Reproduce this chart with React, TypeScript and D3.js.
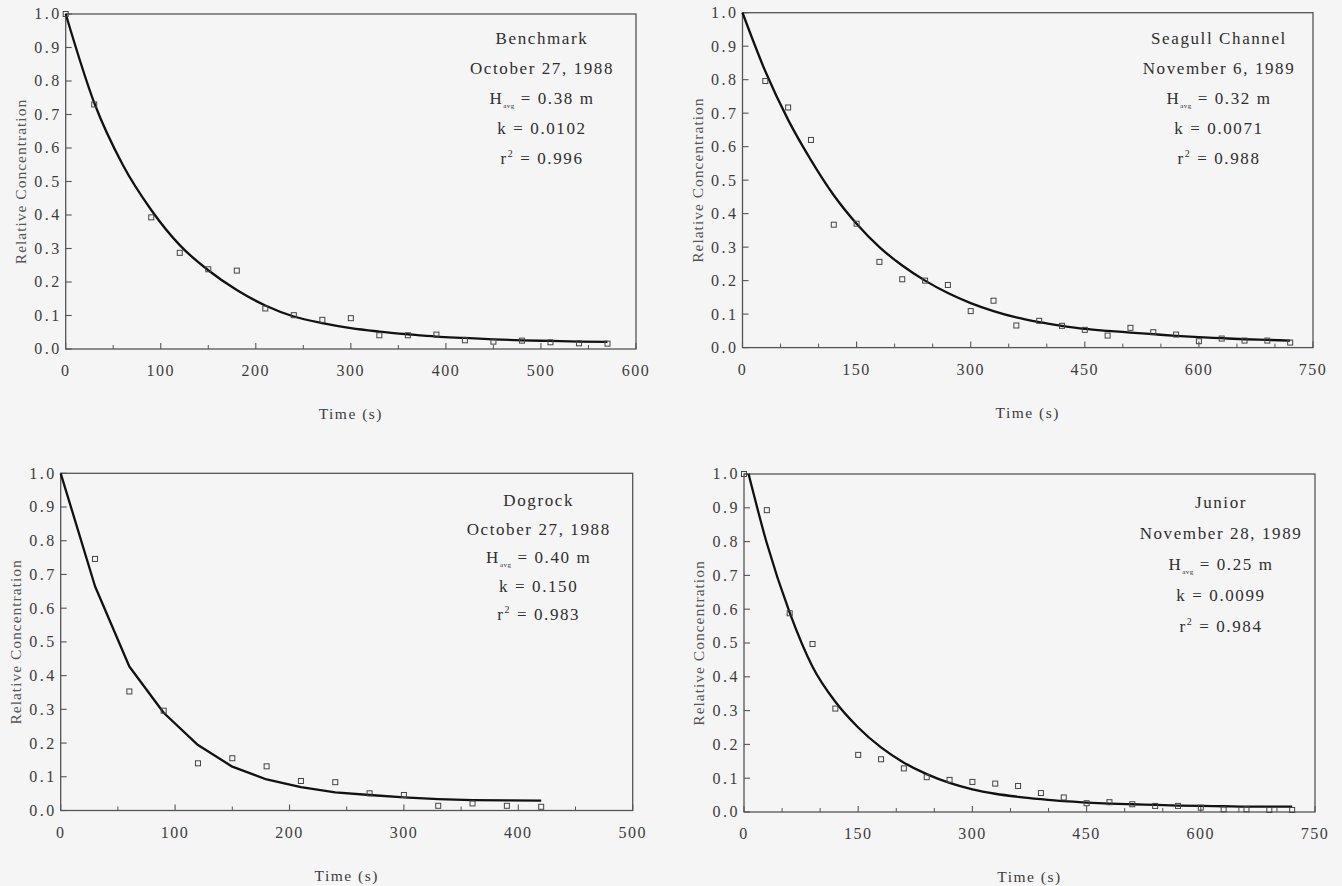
import React from 'react';
import * as d3 from 'd3';

const benchmarkObsT = [0, 30, 90, 120, 150, 180, 210, 240, 270, 300, 330, 360, 390, 420, 450, 480, 510, 540, 570];
const benchmarkObsC = [1.0, 0.73, 0.393, 0.287, 0.238, 0.234, 0.121, 0.101, 0.087, 0.092, 0.041, 0.041, 0.043, 0.026, 0.022, 0.025, 0.02, 0.017, 0.016];
const benchmarkFitT = [0, 30, 60, 90, 120, 150, 180, 210, 240, 270, 300, 330, 360, 390, 420, 450, 480, 510, 540, 570];
const benchmarkFitC = [1.0, 0.735, 0.55, 0.415, 0.31, 0.235, 0.176, 0.13, 0.097, 0.077, 0.062, 0.052, 0.044, 0.037, 0.033, 0.029, 0.026, 0.024, 0.022, 0.021];

const seagullObsT = [30, 60, 90, 120, 150, 180, 210, 240, 270, 300, 330, 360, 390, 420, 450, 480, 510, 540, 570, 600, 630, 660, 690, 720];
const seagullObsC = [0.796, 0.717, 0.62, 0.367, 0.37, 0.256, 0.204, 0.2, 0.187, 0.109, 0.14, 0.066, 0.08, 0.065, 0.053, 0.036, 0.059, 0.046, 0.039, 0.019, 0.027, 0.021, 0.021, 0.015];
const seagullFitT = [0, 30, 60, 90, 120, 150, 180, 210, 240, 270, 300, 330, 360, 390, 420, 450, 480, 510, 540, 570, 600, 630, 660, 690, 720];
const seagullFitC = [1.0, 0.825, 0.68, 0.56, 0.455, 0.37, 0.3, 0.245, 0.2, 0.163, 0.133, 0.109, 0.09, 0.076, 0.065, 0.056, 0.05, 0.045, 0.04, 0.035, 0.031, 0.028, 0.025, 0.023, 0.021];

const dogrockObsT = [30, 60, 90, 120, 150, 180, 210, 240, 270, 300, 330, 360, 390, 420];
const dogrockObsC = [0.746, 0.353, 0.296, 0.14, 0.155, 0.131, 0.0875, 0.084, 0.051, 0.046, 0.014, 0.021, 0.014, 0.011];
const dogrockFitT = [0, 30, 60, 90, 120, 150, 180, 210, 240, 270, 300, 330, 360, 390, 420];
const dogrockFitC = [1.0, 0.665, 0.427, 0.29, 0.194, 0.13, 0.092, 0.069, 0.054, 0.046, 0.039, 0.034, 0.031, 0.03, 0.029];

const juniorObsT = [0, 30, 60, 90, 120, 150, 180, 210, 240, 270, 300, 330, 360, 390, 420, 450, 480, 510, 540, 570, 600, 630, 660, 690, 720];
const juniorObsC = [1.0, 0.893, 0.588, 0.497, 0.306, 0.169, 0.156, 0.129, 0.103, 0.095, 0.089, 0.084, 0.077, 0.056, 0.043, 0.026, 0.029, 0.023, 0.018, 0.018, 0.013, 0.008, 0.008, 0.006, 0.006];
const juniorFitT = [6, 30, 60, 90, 120, 150, 180, 210, 240, 270, 300, 330, 360, 390, 420, 450, 480, 510, 540, 570, 600, 630, 660, 690, 720];
const juniorFitC = [1.0, 0.795, 0.59, 0.43, 0.326, 0.25, 0.191, 0.146, 0.112, 0.086, 0.067, 0.054, 0.045, 0.038, 0.032, 0.028, 0.025, 0.023, 0.021, 0.019, 0.018, 0.017, 0.016, 0.016, 0.016];

// annotation text
const siteNames = ['Benchmark', 'Seagull Channel', 'Dogrock', 'Junior'];
const siteDates = ['October 27, 1988', 'November 6, 1989', 'October 27, 1988', 'November 28, 1989'];
const hAvg = ['0.38', '0.32', '0.40', '0.25'];
const kValues = ['0.0102', '0.0071', '0.150', '0.0099'];
const r2Values = ['0.996', '0.988', '0.983', '0.984'];

// axis ticks
const xTicks600 = [0, 100, 200, 300, 400, 500, 600];
const xTicks500 = [0, 100, 200, 300, 400, 500];
const xTicks750 = [0, 150, 300, 450, 600, 750];
const yTicks = [0, 0.1, 0.2, 0.3, 0.4, 0.5, 0.6, 0.7, 0.8, 0.9, 1.0];

const FONT = '"Liberation Serif", "Times New Roman", serif';
const INK = '#3c3c3c';

const panels = [
  { box: [65.7, 14, 636, 349], xMax: 600, ticks: xTicks600, obsT: benchmarkObsT, obsC: benchmarkObsC, fitT: benchmarkFitT, fitC: benchmarkFitC, noteTop: 44, noteGap: 30, smooth: true },
  { box: [742.5, 12.7, 1313, 347.6], xMax: 750, ticks: xTicks750, obsT: seagullObsT, obsC: seagullObsC, fitT: seagullFitT, fitC: seagullFitC, noteTop: 44, noteGap: 30, smooth: true },
  { box: [60.7, 473.3, 632.7, 810.5], xMax: 500, ticks: xTicks500, obsT: dogrockObsT, obsC: dogrockObsC, fitT: dogrockFitT, fitC: dogrockFitC, noteTop: 506, noteGap: 28.5, smooth: false },
  { box: [744, 474, 1315, 812], xMax: 750, ticks: xTicks750, obsT: juniorObsT, obsC: juniorObsC, fitT: juniorFitT, fitC: juniorFitC, noteTop: 508, noteGap: 31, smooth: true },
];

const Panel = ({ p, i }) => {
  const [x0, y0, x1, y1] = p.box;
  const x = d3.scaleLinear().domain([0, p.xMax]).range([x0, x1]);
  const y = d3.scaleLinear().domain([0, 1]).range([y1, y0]);
  const minor = d3.range(50, p.xMax, 50).filter(t => !p.ticks.includes(t));
  const line = d3.line()
    .x(d => x(d[0]))
    .y(d => y(d[1]))
    .curve(p.smooth ? d3.curveMonotoneX : d3.curveLinear);
  const fit = p.fitT.map((t, j) => [t, p.fitC[j]]);
  const cx = x1 - 94;
  const note = (j) => p.noteTop + j * p.noteGap;

  return (
    <g>
      <rect x={x0} y={y0} width={x1 - x0} height={y1 - y0} fill="none" stroke="#555" strokeWidth={1.3} />
      {yTicks.map(v => (
        <g key={'y' + v}>
          <line x1={x0} x2={x0 + 6} y1={y(v)} y2={y(v)} stroke="#555" strokeWidth={1.1} />
          <text x={x0 - 4} y={y(v)} dy="0.34em" textAnchor="end" fontSize={16} letterSpacing={2.5} fill={INK}>
            {d3.format('.1f')(v)}
          </text>
        </g>
      ))}
      {p.ticks.map(t => (
        <g key={'x' + t}>
          <line x1={x(t)} x2={x(t)} y1={y1} y2={y1 - 6} stroke="#555" strokeWidth={1.1} />
          <text x={x(t)} y={y1 + 27} textAnchor="middle" fontSize={16} letterSpacing={1.5} fill={INK}>{t}</text>
        </g>
      ))}
      {minor.map(t => (
        <line key={'m' + t} x1={x(t)} x2={x(t)} y1={y1} y2={y1 - 4} stroke="#555" strokeWidth={1} />
      ))}
      <text x={(x0 + x1) / 2} y={y1 + 70} textAnchor="middle" fontSize={15.5} letterSpacing={1.5} fill={INK}>Time (s)</text>
      <text transform={`translate(${x0 - 40},${(y0 + y1) / 2}) rotate(-90)`} textAnchor="middle" fontSize={15.5} letterSpacing={1} fill="#555">
        Relative Concentration
      </text>

      <path d={line(fit)} fill="none" stroke="#111" strokeWidth={2.3} strokeLinejoin="round" />
      {p.obsT.map((t, j) => (
        <rect key={'o' + j} x={x(t) - 2.5} y={y(p.obsC[j]) - 2.5} width={5} height={5} fill="none" stroke="#444" strokeWidth={1} />
      ))}

      <g fontSize={17} letterSpacing={1.6} fill="#2e2e2e" textAnchor="middle">
        <text x={cx} y={note(0)}>{siteNames[i]}</text>
        <text x={cx} y={note(1)}>{siteDates[i]}</text>
        <text x={cx} y={note(2)}>
          H<tspan fontSize={7} dy={4} letterSpacing={0.5}>avg</tspan>
          <tspan dy={-4}> = {hAvg[i]} m</tspan>
        </text>
        <text x={cx} y={note(3)}>k = {kValues[i]}</text>
        <text x={cx} y={note(4)}>
          r<tspan fontSize={10} dy={-7}>2</tspan>
          <tspan dy={7}> = {r2Values[i]}</tspan>
        </text>
      </g>
    </g>
  );
};

export default function App() {
  return (
    <svg width={1342} height={886} style={{ position: 'absolute', left: 0, top: 0, display: 'block' }} fontFamily={FONT}>
      <rect width={1342} height={886} fill="#f6f5f5" />
      {panels.map((p, i) => <Panel key={i} p={p} i={i} />)}
    </svg>
  );
}
